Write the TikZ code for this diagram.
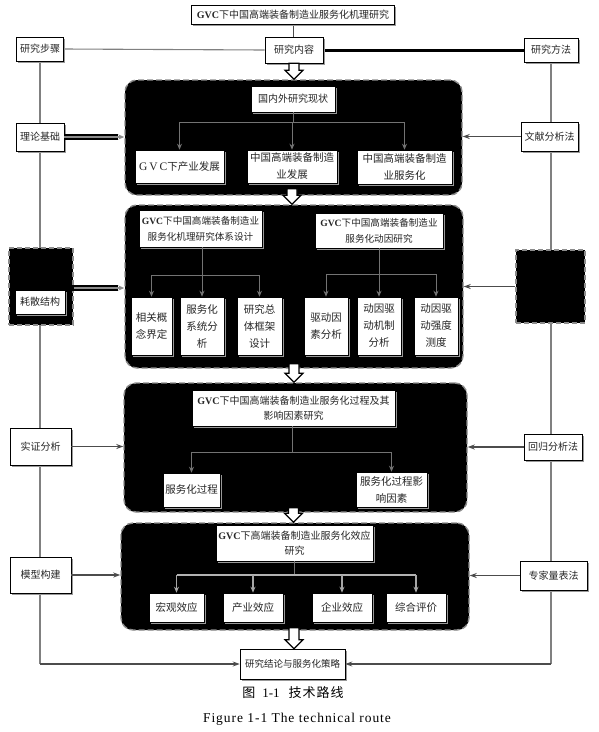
\documentclass[tikz,border=0pt]{standalone}
\usepackage{fontspec}
\setmainfont{Liberation Serif}
\newfontfamily\cjk{Noto Sans CJK SC}
\newfontfamily\capfont[LetterSpace=7]{Liberation Serif}
\usetikzlibrary{arrows.meta,shadows,calc}
\pgfdeclarelayer{bg}
\pgfsetlayers{bg,main}
\newcommand\gvc{{\rmfamily\bfseries GVC}}
\newcommand\blockarrow[2]{%
  \draw[line width=1.2pt, draw=black, fill=white, line join=miter]
   let \p1=(#1), \p2=(#2) in
   (\x1-5pt,\y1) -- (\x1-5pt,\y2+9pt) -- (\x1-9pt,\y2+9pt) -- (\x1,\y2) --
   (\x1+9pt,\y2+9pt) -- (\x1+5pt,\y2+9pt) -- (\x1+5pt,\y1) -- cycle;}
\begin{document}
\begin{tikzpicture}[x=1pt,y=-1pt,
  font=\cjk\fontsize{10}{15}\selectfont,
  box/.style={draw=black, line width=0.6pt, fill=white, text=black!85, inner sep=1pt, align=center,
    drop shadow={shadow xshift=1.6pt,shadow yshift=-1.6pt,fill=black!40,opacity=1}},
  panel/.style={draw=black!45, fill=black, line width=1.4pt, dash pattern=on 6pt off 3pt,
    rounded corners=12pt, inner sep=0pt},
  dbox/.style={draw=black!45, fill=black, line width=1.4pt, dash pattern=on 5pt off 3pt, inner sep=0pt},
  pline/.style={draw=black!55, line width=1pt},
  tip/.style={-{Stealth[length=6pt,width=5pt]}},
  vline/.style={draw=black!50, line width=1.1pt},
  harrow/.style={draw=black!70, line width=1.3pt, -{Stealth[length=7pt,width=5pt]}},
  small/.style={font=\cjk\fontsize{10.5}{17}\selectfont}
]
\useasboundingbox (0,0) rectangle (599,732);

% ---------- panels ----------
\node[panel, minimum width=337, minimum height=115] (P1) at (293.5,137.5) {};
\node[panel, minimum width=338, minimum height=163] (P2) at (294,286.5) {};
\node[panel, minimum width=343, minimum height=129] (P3) at (295.5,447.5) {};
\node[panel, minimum width=348, minimum height=107] (P4) at (295,576.5) {};

% ---------- top ----------
\node[box, minimum width=203, minimum height=19] (T) at (293,15) {\gvc 下中国高端装备制造业服务化机理研究};
\node[box, minimum width=58, minimum height=26] (C) at (294,50) {研究内容};
\node[box, minimum width=47, minimum height=24] (S) at (40,49) {研究步骤};
\node[box, minimum width=54, minimum height=24] (M) at (551,50) {研究方法};

% ---------- side boxes ----------
\node[box, minimum width=48, minimum height=28] (L1) at (40,137) {理论基础};
\node[box, minimum width=57, minimum height=29] (R1) at (549.5,136.5) {文献分析法};
\node[dbox, minimum width=64, minimum height=77] (L2) at (41,286.5) {};
\node[box, minimum width=50, minimum height=24] (L2in) at (40,302) {耗散结构};
\node[dbox, minimum width=69, minimum height=73] (R2) at (550.5,286.5) {};
\node[box, minimum width=61, minimum height=37] (L3) at (40.5,446.5) {实证分析};
\node[box, minimum width=58, minimum height=26] (R3) at (553,447) {回归分析法};
\node[box, minimum width=61, minimum height=36] (L4) at (40.5,575) {模型构建};
\node[box, minimum width=67, minimum height=29] (R4) at (553.5,575.5) {专家量表法};
\node[box, minimum width=105, minimum height=30, font=\cjk\fontsize{9.5}{12}\selectfont] (F) at (292.5,664) {研究结论与服务化策略};

% ---------- panel 1 ----------
\node[box, minimum width=84, minimum height=26] (Q1) at (293,99) {国内外研究现状};
\node[box, small, minimum width=89, minimum height=33] (A1) at (179.5,166.5) {{\rmfamily\fontsize{11.5}{14}\selectfont G\,V\,C}下产业发展};
\node[box, small, minimum width=90, minimum height=33] (A2) at (292,166.5) {中国高端装备制造\\业发展};
\node[box, small, minimum width=95, minimum height=34] (A3) at (404.5,167) {中国高端装备制造\\业服务化};
\draw[pline] (Q1.south) -- ($(Q1.south)+(0,10)$) coordinate (j1);
\draw[pline] (j1 -| A1.north) -- (j1 -| A3.north);
\draw[pline,tip] (j1 -| A1.north) -- (A1.north);
\draw[pline,tip] (j1) -- (j1 -| A2.north) -- (A2.north);
\draw[pline,tip] (j1 -| A3.north) -- (A3.north);

% ---------- panel 2 ----------
\node[box, font=\cjk\fontsize{9.6}{16}\selectfont, minimum width=123, minimum height=37] (B1) at (200.5,228.5) {\gvc 下中国高端装备制造业\\服务化机理研究体系设计};
\node[box, font=\cjk\fontsize{9.6}{16}\selectfont, minimum width=128, minimum height=35] (B2) at (379,230.5) {\gvc 下中国高端装备制造业\\服务化动因研究};
\node[box, small, minimum width=41, minimum height=58] (D1) at (151.5,326) {相关概\\念界定};
\node[box, small, minimum width=44, minimum height=58] (D2) at (202,326) {服务化\\系统分\\析};
\node[box, small, minimum width=45, minimum height=58] (D3) at (259.5,326) {研究总\\体框架\\设计};
\node[box, small, minimum width=44, minimum height=58] (D4) at (326,326) {驱动因\\素分析};
\node[box, small, minimum width=44, minimum height=58] (D5) at (379,326) {动因驱\\动机制\\分析};
\node[box, small, minimum width=44, minimum height=58] (D6) at (436,326) {动因驱\\动强度\\测度};
\coordinate (j2) at ($(B1.south)+(1.5,28)$);
\draw[pline] (B1.south -| j2) -- (j2);
\draw[pline] (j2 -| D1.north) -- (j2 -| D3.north);
\draw[pline,tip] (j2 -| D1.north) -- (D1.north);
\draw[pline,tip] (j2) -- (D2.north);
\draw[pline,tip] (j2 -| D3.north) -- (D3.north);
\coordinate (j3) at ($(B2.south)+(0,26)$);
\draw[pline] (B2.south) -- (j3);
\draw[pline] (j3 -| D4.north) -- (j3 -| D6.north);
\draw[pline,tip] (j3 -| D4.north) -- (D4.north);
\draw[pline,tip] (j3) -- (D5.north);
\draw[pline,tip] (j3 -| D6.north) -- (D6.north);

% ---------- panel 3 ----------
\node[box, minimum width=203, minimum height=36] (E0) at (293.5,408) {\gvc 下中国高端装备制造业服务化过程及其\\影响因素研究};
\node[box, small, minimum width=57, minimum height=34] (E1) at (191.5,490) {服务化过程};
\node[box, small, minimum width=71, minimum height=35] (E2) at (391.5,489.5) {服务化过程影\\响因素};
\coordinate (j4) at ($(E0.south)+(-1.5,26)$);
\draw[pline] (E0.south -| j4) -- (j4);
\draw[pline] (j4 -| E1.north) -- (j4 -| E2.north);
\draw[pline,tip] (j4 -| E1.north) -- (E1.north);
\draw[pline,tip] (j4 -| E2.north) -- (E2.north);

% ---------- panel 4 ----------
\node[box, minimum width=157, minimum height=36] (G0) at (294.5,543) {\gvc 下高端装备制造业服务化效应\\研究};
\node[box, small, minimum width=55, minimum height=29] (G1) at (176.5,607.5) {宏观效应};
\node[box, small, minimum width=60, minimum height=29] (G2) at (253,607.5) {产业效应};
\node[box, small, minimum width=60, minimum height=29] (G3) at (342,607.5) {企业效应};
\node[box, small, minimum width=60, minimum height=29] (G4) at (416,607.5) {综合评价};
\coordinate (j5) at ($(G0.south)+(0,14)$);
\draw[pline] (G0.south) -- (j5);
\draw[draw=black!30, line width=2pt] (j5 -| G1.north) -- (j5 -| G4.north);
\foreach \g in {G1,G2,G3,G4}
  \draw[pline, draw=black!35, line width=1.4pt, tip] (j5 -| \g.north) -- (\g.north);

% ---------- block arrows ----------
\blockarrow{C.south}{P1.north}
\blockarrow{$(P1.south)+(-1.5,-7)$}{P2.north}
\blockarrow{$(P2.south)+(0,-5)$}{P3.north}
\blockarrow{$(P3.south)+(-2,-5)$}{P4.north}
\blockarrow{$(P4.south)+(-1,-3)$}{F.north}

% ---------- side arrows ----------
\draw[line width=6pt, black] (L1.east) -- ($(L1.east -| P1.west)+(-6,0)$);
\draw[line width=1.2pt, draw=black!45, tip] (L1.east) -- (L1.east -| P1.west);
\draw[line width=6pt, black] (L2in.east |- 0,288) coordinate (l2e) -- ($(l2e -| P2.west)+(-6,0)$);
\draw[line width=1.2pt, draw=black!45, tip] (L2.east |- l2e) -- (l2e -| P2.west);
\draw[harrow] (L3.east) -- (L3.east -| P3.west);
\draw[harrow] (L4.east) -- (L4.east -| P4.west);
\draw[harrow] (R1.west) -- (R1.west -| P1.east);
\draw[harrow] (R2.west) -- (R2.west -| P2.east);
\draw[harrow] (R3.west) -- (R3.west -| P3.east);
\draw[harrow] (R4.west) -- (R4.west -| P4.east);

% ---------- background lines ----------
\begin{pgfonlayer}{bg}
\draw[draw=black!70, line width=1pt] (T.south) -- (T.south |- C.north);
\draw[vline] (S.east) -- (C.west);
\draw[black, line width=3pt] (C.east) -- (M.west);
\draw[vline] (S.south) -- (S.south |- F.west);
\draw[vline] (M.south) -- (M.south |- F.east);
\end{pgfonlayer}
\draw[harrow] (S.south |- F.west) -- (F.west);
\draw[harrow] (M.south |- F.east) -- (F.east);

% ---------- captions ----------
\node (cap1) at (293,693) {\fontsize{13}{15}\selectfont 图\hspace{7pt}{\rmfamily 1-1}\hspace{9pt}技\hspace{1pt}术\hspace{1pt}路\hspace{1pt}线};
\node (cap2) at (297,719) {\capfont\fontsize{13.5}{15}\selectfont Figure 1-1 The technical route};
\end{tikzpicture}
\end{document}
